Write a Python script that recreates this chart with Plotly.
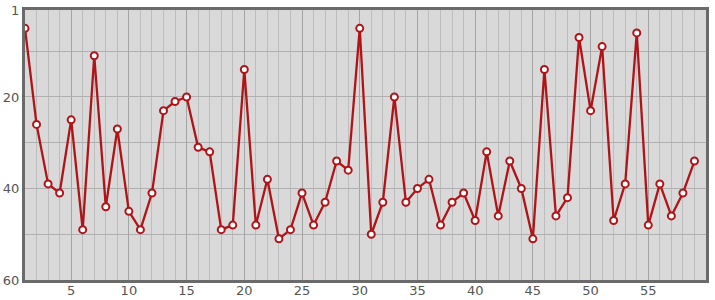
import plotly.graph_objects as go

x_vals = list(range(1, 60))
y_vals = [5, 26, 39, 41, 25, 49, 11, 44, 27, 45,
          49, 41, 23, 21, 20, 31, 32, 49, 48, 14,
          48, 38, 51, 49, 41, 48, 43, 34, 36, 5,
          50, 43, 20, 43, 40, 38, 48, 43, 41, 47,
          32, 46, 34, 40, 51, 14, 46, 42, 7, 23,
          9, 47, 39, 6, 48, 39, 46, 41, 34]
y_tick_vals = [1, 20, 40, 60]
y_minor_vals = [10, 30, 50]
x_tick_vals = [5, 10, 15, 20, 25, 30, 35, 40, 45, 50, 55]

fig = go.Figure()
fig.add_trace(go.Scatter(
    x=x_vals, y=y_vals, mode="lines+markers",
    line=dict(color="#b01418", width=2.3),
    marker=dict(symbol="circle", size=7, color="white",
                line=dict(color="#b01418", width=2)),
    hoverinfo="x+y", showlegend=False,
))

fig.update_layout(
    width=715, height=300,
    margin=dict(l=25, r=9, t=10, b=20),
    paper_bgcolor="white", plot_bgcolor="#d9d9d9",
    font=dict(family="DejaVu Sans", size=13, color="#555555"),
)
fig.update_xaxes(
    range=[1, 60], tickmode="array", tickvals=x_tick_vals,
    automargin=False, ticklabelstandoff=-4,
    showgrid=True, gridcolor="#a4a4a4", gridwidth=1,
    minor=dict(tickmode="linear", tick0=1, dtick=1, showgrid=True,
               gridcolor="#bdbdbd", gridwidth=1),
    showline=True, linecolor="#6a6a6a", linewidth=3, mirror=True,
    zeroline=False, ticks="", ticklen=0,
)
fig.update_yaxes(
    range=[60, 1], tickmode="array", tickvals=y_tick_vals,
    automargin=False,
    showgrid=True, gridcolor="#b0b0b0", gridwidth=1,
    minor=dict(tickmode="array", tickvals=y_minor_vals, showgrid=True,
               gridcolor="#b0b0b0", gridwidth=1),
    showline=True, linecolor="#6a6a6a", linewidth=3, mirror=True,
    zeroline=False, ticks="", ticklen=0,
)
fig.write_html("out.html")
